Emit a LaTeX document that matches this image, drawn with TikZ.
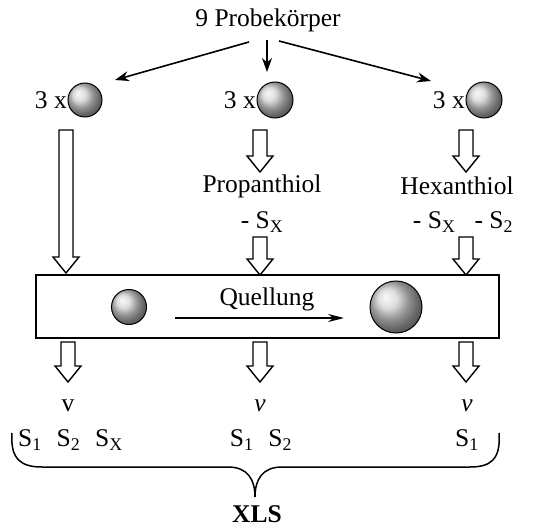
\documentclass[tikz,border=0pt]{standalone}
\usepackage{fontspec}
\setmainfont{Liberation Serif}
\usetikzlibrary{arrows.meta}
\newcommand{\blockarr}[4]{% name, x, ytop, ytip
  \draw[hollowarrow] (#2-7,#3) -- (#2+7,#3) -- (#2+7,#4-16) -- (#2+13,#4-16) -- (#2,#4) -- (#2-13,#4-16) -- (#2-7,#4-16) -- cycle;
  \coordinate (#1) at (#2,#4);}
\begin{document}
\begin{tikzpicture}[x=1pt,y=-1pt,
  lbl/.style={font=\fontsize{25.5}{28}\selectfont, inner sep=0pt},
  sphere/.style={circle, draw=black, line width=1pt, shading=ball, ball color=gray!35, inner sep=0pt},
  hollowarrow/.style={draw=black, fill=white, line width=1.4pt, line join=miter},
  thinarrow/.style={line width=1.6pt, -{Stealth[length=14pt,width=10pt]}}]
\useasboundingbox (0,0) rectangle (546,529);
% top
\node[lbl] (top) at (268,20) {9 Probek\"orper};
\coordinate (tl) at (249,42);
\coordinate (tc) at (267,40);
\coordinate (tr) at (279,41);
% spheres
\node[sphere, minimum size=34pt] (s1) at (85,100) {};
\node[sphere, minimum size=36pt] (s2) at (275,100) {};
\node[sphere, minimum size=36pt] (s3) at (484,100) {};
\node[lbl, anchor=east] (n1) at (67,100) {3 x};
\node[lbl, anchor=east] (n2) at (256,100) {3 x};
\node[lbl, anchor=east] (n3) at (465,100) {3 x};
\draw[thinarrow] (tl) -- (115,80) coordinate (e1);
\draw[thinarrow] (tc) -- (267,72) coordinate (e2);
\draw[thinarrow] (tr) -- (431,81) coordinate (e3);
% block arrows top
\blockarr{a1}{66}{130}{273}
\blockarr{a2}{260}{130}{172}
\blockarr{a3}{466}{130}{172}
% labels
\node[lbl] (prop) at (262,186) {Propanthiol};
\node[lbl] (hex) at (457,186) {Hexanthiol};
\node[lbl] (psx) at (262,222) {- S\textsubscript{X}};
\node[lbl] (hsx) at (463,222) {- S\textsubscript{X}\,\,\, - S\textsubscript{2}};
\blockarr{b2}{260}{237}{275}
\blockarr{b3}{466}{237}{275}
% box
\node[draw=black, line width=1.5pt, minimum width=463pt, minimum height=63pt, inner sep=0pt] (box) at (267.5,306.5) {};
\node[sphere, minimum size=35pt] (small) at (129,307) {};
\node[sphere, minimum size=52pt] (big) at (396,307) {};
\node[lbl] (quell) at (267,299) {Quellung};
\coordinate (qa) at (175,318);
\coordinate (qb) at (344,318);
\draw[line width=1.6pt, -{Stealth[length=16pt,width=8pt]}] (qa) -- (qb);
% bottom arrows
\blockarr{c1}{68}{342}{382}
\blockarr{c2}{260}{342}{382}
\blockarr{c3}{466}{342}{382}
% results
\node[lbl] (v1) at (68,406) {v};
\node[lbl] (v2) at (260,406) {\textit{v}};
\node[lbl] (v3) at (467,406) {\textit{v}};
\node[lbl, anchor=west] (r1) at (18,440) {S\textsubscript{1}\,\, S\textsubscript{2}\,\, S\textsubscript{X}};
\node[lbl] (r2) at (261,440) {S\textsubscript{1}\,\, S\textsubscript{2}};
\node[lbl] (r3) at (467,440) {S\textsubscript{1}};
% brace
\coordinate (bl) at (12,433);
\coordinate (br) at (499,433);
\coordinate (btip) at (255,497);
\draw[line width=1.5pt] (bl) .. controls (10,460) and (22,467) .. (42,467) -- (228,467)
  .. controls (248,467) and (255,480) .. (btip)
  .. controls (255,480) and (262,467) .. (282,467) -- (470,467)
  .. controls (490,467) and (501,460) .. (br);
\node[lbl, font=\fontsize{25.5}{28}\selectfont\bfseries] (xls) at (257,514) {XLS};
\end{tikzpicture}
\end{document}
